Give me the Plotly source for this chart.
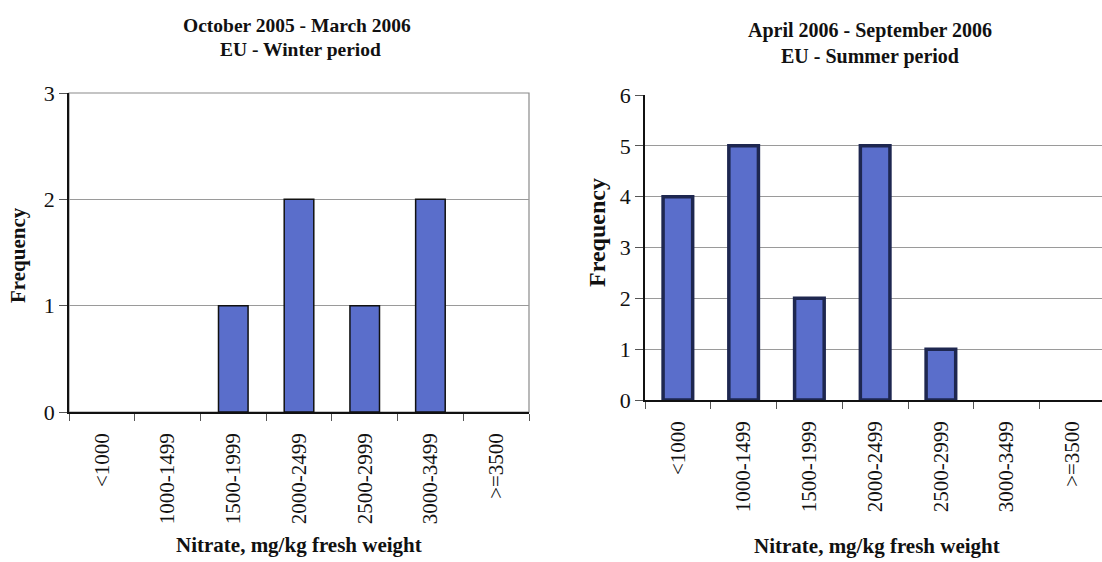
import plotly.graph_objects as go

categories = ["<1000", "1000-1499", "1500-1999", "2000-2499", "2500-2999", "3000-3499", ">=3500"]
winter_freq = [0, 0, 1, 2, 1, 2, 0]
summer_freq = [4, 5, 2, 5, 1, 0, 0]

W, H = 1102, 562
BAR = "#5a6ecb"
SERIF = "Liberation Serif, Times New Roman, Times, serif"

def px(x):
    return x / W

def py(y):
    return 1 - y / H

fig = go.Figure()
fig.add_trace(go.Bar(x=categories, y=winter_freq, width=0.45,
                     marker=dict(color=BAR, line=dict(color="#111111", width=[1.5 if v > 0 else 0 for v in winter_freq])),
                     xaxis="x", yaxis="y", showlegend=False))
fig.add_trace(go.Bar(x=categories, y=summer_freq, width=0.45,
                     marker=dict(color=BAR, line=dict(color="#1e2750", width=[3.5 if v > 0 else 0 for v in summer_freq])),
                     xaxis="x2", yaxis="y2", showlegend=False))

xtickfont = dict(family=SERIF, size=21, color="#111111")
ytickfont = dict(family=SERIF, size=22, color="#111111")
common_x = dict(type="category", categoryorder="array", categoryarray=categories, tickson="boundaries",
                ticks="outside", ticklen=7, tickcolor="#555555", showline=True, linecolor="#111111", linewidth=1.5,
                tickangle=-90, tickfont=xtickfont, showgrid=False, automargin=False, ticklabelstandoff=11)
common_y = dict(ticks="outside", ticklen=8, tickcolor="#555555", showline=True, linecolor="#111111", linewidth=1.5,
                tickfont=ytickfont, showgrid=True, gridcolor="#9a9a9a", gridwidth=1, zeroline=False, dtick=1,
                automargin=False)

fig.update_layout(
    width=W, height=H, margin=dict(l=0, r=0, t=0, b=0, autoexpand=False),
    plot_bgcolor="white", paper_bgcolor="white", bargap=0.55,
    xaxis=dict(domain=[px(69), px(529)], anchor="y", range=[-0.5, 6.5], **common_x),
    yaxis=dict(domain=[py(412), py(93)], anchor="x", range=[0, 3], **common_y),
    xaxis2=dict(domain=[px(645), 1.0], anchor="y2", range=[-0.5, 6.45], **common_x),
    yaxis2=dict(domain=[py(400), py(95)], anchor="x2", range=[0, 6], **common_y),
)

# frame of left chart
fig.add_shape(type="rect", xref="x domain", yref="y domain", x0=0, x1=1, y0=0, y1=1,
              line=dict(color="#8a8a8a", width=1.2), layer="below")

def bold(s):
    return "<b>" + s + "</b>"

ann = [
    (px(297), py(25), "October 2005 - March 2006", 0, 19.5),
    (px(300), py(49), "EU - Winter period", 0, 19.5),
    (px(870), py(31), "April 2006 - September 2006", 0, 20),
    (px(870), py(56), "EU - Summer period", 0, 20),
    (px(299), py(545), "Nitrate, mg/kg fresh weight", 0, 21),
    (px(877), py(546), "Nitrate, mg/kg fresh weight", 0, 21),
    (px(18), py(255), "Frequency", -90, 21),
    (px(597), py(233), "Frequency", -90, 24),
]
for x, y, t, a, s in ann:
    fig.add_annotation(x=x, y=y, xref="paper", yref="paper", text=bold(t), showarrow=False,
                       textangle=a, font=dict(family=SERIF, size=s, color="#111111"),
                       xanchor="center", yanchor="middle")

fig.write_html("out.html", config={"displayModeBar": False},
               post_script="document.body.style.margin='0px';document.body.style.padding='0px';")
